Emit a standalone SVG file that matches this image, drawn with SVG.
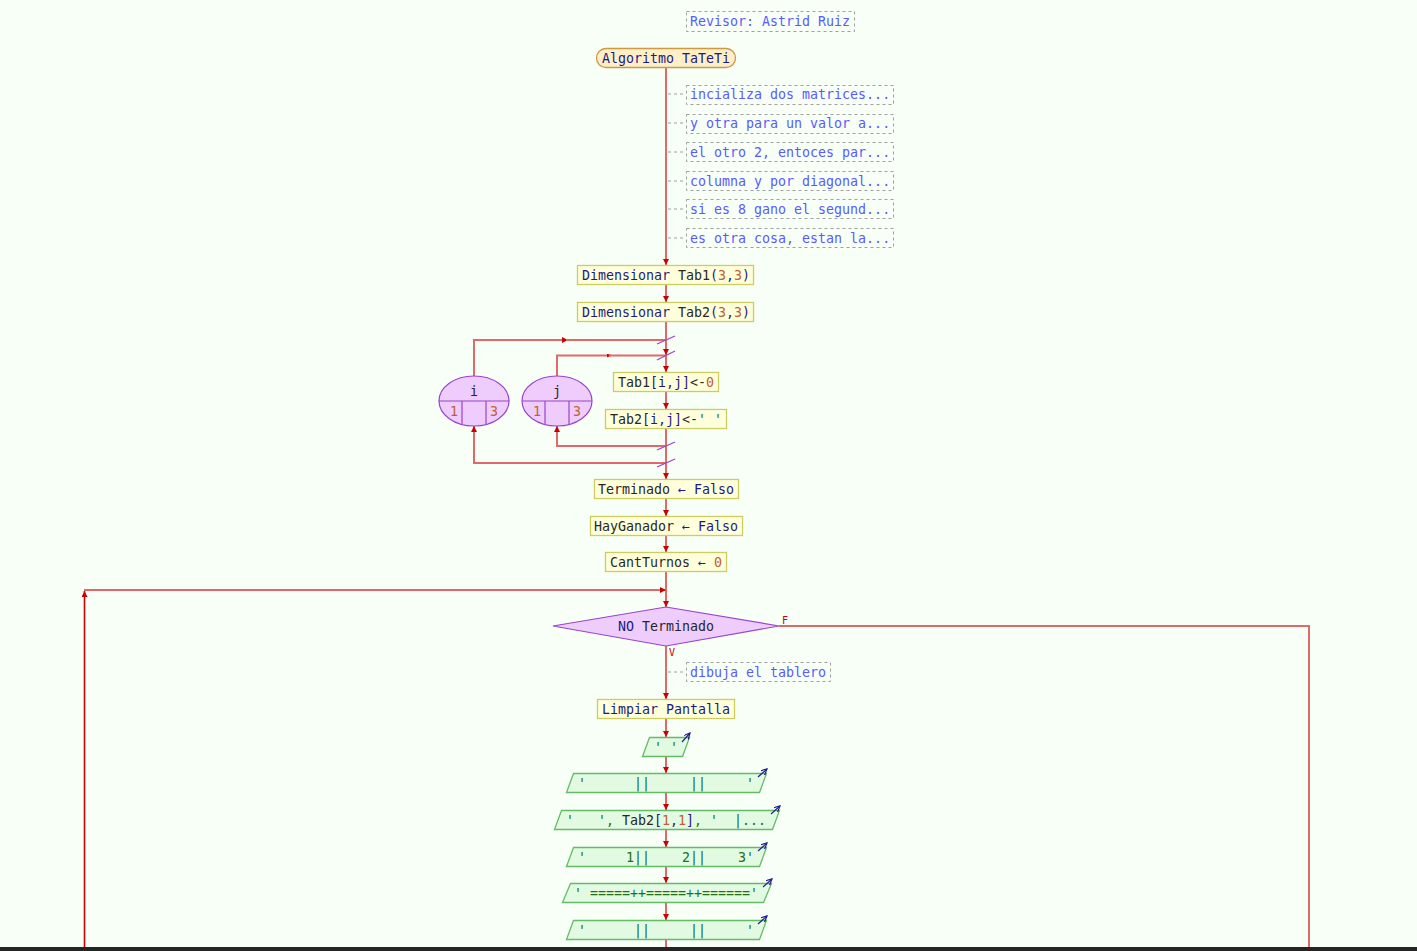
<svg xmlns="http://www.w3.org/2000/svg" width="1417" height="951" viewBox="0 0 1417 951">
<defs>
<marker id="ah" markerUnits="userSpaceOnUse" markerWidth="8" markerHeight="8" refX="6" refY="3" orient="auto"><path d="M0,0 L6,3 L0,6 z" fill="#cc0000"/></marker>
<marker id="ahs" markerUnits="userSpaceOnUse" markerWidth="6" markerHeight="6" refX="4" refY="2" orient="auto"><path d="M0,0 L4,2 L0,4 z" fill="#cc0000"/></marker>
<marker id="ab" markerUnits="userSpaceOnUse" markerWidth="8" markerHeight="8" refX="6" refY="3" orient="auto"><path d="M0,0 L6,3 L0,6" fill="none" stroke="#202090" stroke-width="1.2"/></marker>
<style>
text{font-family:"DejaVu Sans Mono","Liberation Mono",monospace;font-size:13.3px;fill:#282828}
.c{fill:#5a5aff}
.k{fill:#1c1c80}
.n{fill:#c06030}
.s{fill:#207020}
.m{text-anchor:middle}
.cm{fill:none;stroke:#a0a0a0;stroke-width:1;stroke-dasharray:3,3}
.proc{fill:#ffffdc;stroke:#cccc60;stroke-width:1.3}
.start{fill:#ffeec8;stroke:#cc9944;stroke-width:1.3}
.pur{fill:#eeccfc;stroke:#9944cc;stroke-width:1.2}
.out{fill:#e2fae2;stroke:#66bb66;stroke-width:1.3}
.ln{fill:none;stroke:#e06a6a;stroke-width:2}
.lnd{fill:none;stroke:#d00000;stroke-width:1.6}
.sl{stroke:#9944cc;stroke-width:1.2}
.oa{stroke:#202090;stroke-width:1.2;marker-end:url(#ab)}
.lbl{font-size:10px;fill:#cc0000}
</style>
</defs>
<rect x="0" y="0" width="1417" height="951" fill="#f7fff7"/>

<g id="connectors">
<path class="ln" d="M666,68 V265" marker-end="url(#ah)"/>
<path class="ln" d="M666,285 V302" marker-end="url(#ah)"/>
<path class="ln" d="M666,322 V355" marker-end="url(#ah)"/>
<path class="ln" d="M666,355 V372" marker-end="url(#ah)"/>
<path class="ln" d="M666,392 V409" marker-end="url(#ah)"/>
<path class="ln" d="M666,429 V479" marker-end="url(#ah)"/>
<path class="ln" d="M666,499 V516" marker-end="url(#ah)"/>
<path class="ln" d="M666,536 V552" marker-end="url(#ah)"/>
<path class="ln" d="M666,572 V607" marker-end="url(#ah)"/>
<path class="ln" d="M666,646 V699" marker-end="url(#ah)"/>
<path class="ln" d="M666,719 V737" marker-end="url(#ah)"/>
<path class="ln" d="M666,757 V773" marker-end="url(#ah)"/>
<path class="ln" d="M666,793 V810" marker-end="url(#ah)"/>
<path class="ln" d="M666,830 V847" marker-end="url(#ah)"/>
<path class="ln" d="M666,867 V883" marker-end="url(#ah)"/>
<path class="ln" d="M666,903 V920" marker-end="url(#ah)"/>
<path class="ln" d="M666,940 V951"/>
<!-- for loops -->
<path class="ln" d="M474,376 V340 H568" marker-end="url(#ah)"/>
<path class="ln" d="M566,340 H666"/>
<path class="ln" d="M557,376 V355.5 H611" marker-end="url(#ahs)"/>
<path class="ln" d="M609,355.5 H666"/>
<path class="ln" d="M666,446 H557 V426" marker-end="url(#ah)"/>
<path class="ln" d="M666,463 H474 V426" marker-end="url(#ah)"/>
<line class="sl" x1="657" y1="344" x2="675" y2="336"/>
<line class="sl" x1="657" y1="360" x2="675" y2="351"/>
<line class="sl" x1="657" y1="450" x2="675" y2="442"/>
<line class="sl" x1="657" y1="467" x2="675" y2="459"/>
<!-- while loop -->
<path class="lnd" d="M84.5,951 V591" marker-end="url(#ah)"/>
<path class="ln" d="M84,590 H666" marker-end="url(#ah)"/>
<path class="ln" d="M779,626 H1309 V951"/>
<text class="lbl" x="782" y="624">F</text>
<text class="lbl" x="669" y="656">V</text>
<!-- comment ticks -->
<path class="cm" d="M668,94 H686 M668,123 H686 M668,152 H686 M668,181 H686 M668,209 H686 M668,238 H686 M668,672 H686"/>
</g>

<g id="revisor">
<rect class="cm" x="686.5" y="11.5" width="168" height="20"/>
<text class="c" x="690" y="26">Revisor: Astrid Ruiz</text>
</g>

<g id="start">
<rect class="start" x="596.5" y="48.5" width="139" height="19" rx="9.5"/>
<text class="m k" x="666" y="62.5">Algoritmo TaTeTi</text>
</g>

<g id="comments">
<rect class="cm" x="686.5" y="85.5" width="207" height="19"/>
<text class="c" x="690" y="98.5">incializa dos matrices...</text>
<rect class="cm" x="686.5" y="114.5" width="207" height="19"/>
<text class="c" x="690" y="127.5">y otra para un valor a...</text>
<rect class="cm" x="686.5" y="142.5" width="207" height="19"/>
<text class="c" x="690" y="156.5">el otro 2, entoces par...</text>
<rect class="cm" x="686.5" y="171.5" width="207" height="19"/>
<text class="c" x="690" y="185.5">columna y por diagonal...</text>
<rect class="cm" x="686.5" y="199.5" width="207" height="19"/>
<text class="c" x="690" y="213.5">si es 8 gano el segund...</text>
<rect class="cm" x="686.5" y="228.5" width="207" height="19"/>
<text class="c" x="690" y="242.5">es otra cosa, estan la...</text>
</g>

<g id="dim1">
<rect class="proc" x="577.5" y="265.5" width="176" height="19"/>
<text class="m" x="666" y="279.5"><tspan class="k">Dimensionar</tspan> Tab1<tspan class="k">(</tspan><tspan class="n">3</tspan><tspan class="k">,</tspan><tspan class="n">3</tspan><tspan class="k">)</tspan></text>
</g>
<g id="dim2">
<rect class="proc" x="577.5" y="302.5" width="176" height="19"/>
<text class="m" x="666" y="316.5"><tspan class="k">Dimensionar</tspan> Tab2<tspan class="k">(</tspan><tspan class="n">3</tspan><tspan class="k">,</tspan><tspan class="n">3</tspan><tspan class="k">)</tspan></text>
</g>

<g id="loop-i">
<ellipse class="pur" cx="474" cy="401" rx="35" ry="25"/>
<path class="pur" fill="none" d="M439,401 H509 M462,401 V424.5 M486,401 V424.5"/>
<text class="m" x="474" y="396">i</text>
<text class="m n" x="454" y="416">1</text>
<text class="m n" x="494" y="416">3</text>
</g>
<g id="loop-j">
<ellipse class="pur" cx="557" cy="401" rx="35" ry="25"/>
<path class="pur" fill="none" d="M522,401 H592 M545,401 V424.5 M569,401 V424.5"/>
<text class="m" x="557" y="396">j</text>
<text class="m n" x="537" y="416">1</text>
<text class="m n" x="577" y="416">3</text>
</g>

<g id="tab1">
<rect class="proc" x="613.5" y="372.5" width="105" height="19"/>
<text class="m" x="666" y="386.5">Tab1<tspan class="k">[i,j]</tspan>&lt;-<tspan class="n">0</tspan></text>
</g>
<g id="tab2">
<rect class="proc" x="605.5" y="409.5" width="121" height="19"/>
<text class="m" x="666" y="423.5" xml:space="preserve">Tab2<tspan class="k">[i,j]</tspan>&lt;-<tspan class="s">' '</tspan></text>
</g>

<g id="terminado">
<rect class="proc" x="594.5" y="479.5" width="144" height="19"/>
<text class="m" x="666" y="493.5">Terminado <tspan class="k">← Falso</tspan></text>
</g>
<g id="hayganador">
<rect class="proc" x="590.5" y="516.5" width="152" height="19"/>
<text class="m" x="666" y="530.5">HayGanador <tspan class="k">← Falso</tspan></text>
</g>
<g id="cantturnos">
<rect class="proc" x="605.5" y="552.5" width="121" height="19"/>
<text class="m" x="666" y="566.5">CantTurnos <tspan class="k">←</tspan> <tspan class="n">0</tspan></text>
</g>

<g id="while">
<polygon class="pur" points="553,626 666,607 779,626 666,646"/>
<text class="m" x="666" y="630.5"><tspan class="k">NO</tspan> Terminado</text>
</g>

<g id="comment-dibuja">
<rect class="cm" x="686.5" y="662.5" width="144" height="19"/>
<text class="c" x="690" y="676.5">dibuja el tablero</text>
</g>

<g id="limpiar">
<rect class="proc" x="597.5" y="699.5" width="137" height="19"/>
<text class="m k" x="666" y="713.5">Limpiar Pantalla</text>
</g>

<g id="out1">
<polygon class="out" points="649.5,737.5 689.5,737.5 682.5,756.5 642.5,756.5"/>
<line class="oa" x1="682" y1="742" x2="690" y2="733"/>
<text class="m s" x="666" y="751.5" xml:space="preserve">' '</text>
</g>
<g id="out2">
<polygon class="out" points="573.5,773.5 766.5,773.5 759.5,792.5 566.5,792.5"/>
<line class="oa" x1="758" y1="777" x2="767" y2="769"/>
<text class="m s" x="666" y="787.5" xml:space="preserve">'      ||     ||     '</text>
</g>
<g id="out3">
<polygon class="out" points="561.5,810.5 779.5,810.5 772.5,829.5 554.5,829.5"/>
<line class="oa" x1="771" y1="814" x2="780" y2="806"/>
<text class="m s" x="666" y="824.5" xml:space="preserve">'   ', <tspan fill="#282828">Tab2</tspan><tspan class="k">[</tspan><tspan class="n">1</tspan><tspan class="k">,</tspan><tspan class="n">1</tspan><tspan class="k">]</tspan>, '  |...</text>
</g>
<g id="out4">
<polygon class="out" points="573.5,847.5 766.5,847.5 759.5,866.5 566.5,866.5"/>
<line class="oa" x1="758" y1="851" x2="767" y2="843"/>
<text class="m s" x="666" y="861.5" xml:space="preserve">'     1||    2||    3'</text>
</g>
<g id="out5">
<polygon class="out" points="570.5,883.5 771.5,883.5 763.5,902.5 562.5,902.5"/>
<line class="oa" x1="763" y1="887" x2="772" y2="879"/>
<text class="m s" x="666" y="897.5" xml:space="preserve">' =====++=====++======'</text>
</g>
<g id="out6">
<polygon class="out" points="573.5,920.5 766.5,920.5 759.5,939.5 566.5,939.5"/>
<line class="oa" x1="758" y1="924" x2="767" y2="916"/>
<text class="m s" x="666" y="934.5" xml:space="preserve">'      ||     ||     '</text>
</g>

<rect x="0" y="947" width="1417" height="4" fill="#252525"/>
</svg>
